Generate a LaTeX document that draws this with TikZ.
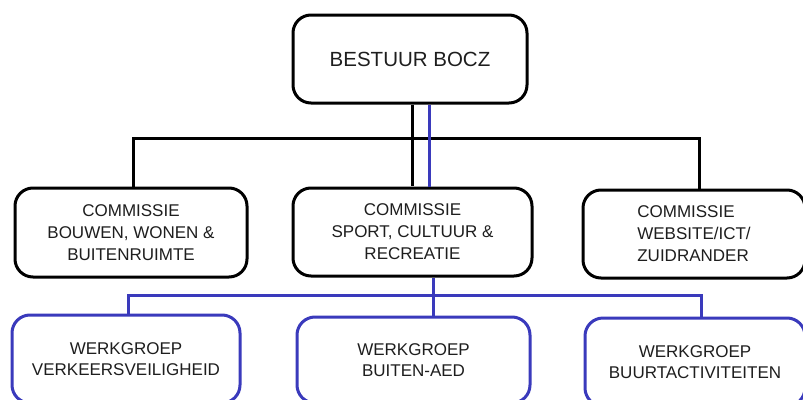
\documentclass[tikz,border=0pt]{standalone}
\usepackage{fontspec}
\setmainfont{Liberation Sans}
\definecolor{orgblue}{RGB}{58,58,188}
\definecolor{txt}{RGB}{30,30,30}
\begin{document}
\begin{tikzpicture}[x=1pt,y=-1pt,
  box/.style={draw=black, line width=3pt, rounded corners=18pt, inner sep=0pt, text=txt, align=center, font=\fontsize{17}{22}\selectfont},
  bbox/.style={box, draw=orgblue, font=\fontsize{17}{21}\selectfont},
  bl/.style={draw=black, line width=3pt},
  blu/.style={draw=orgblue, line width=3pt}]
\useasboundingbox (0,0) rectangle (803,399);
\clip (0,0) rectangle (803,399);
\fill[white] (0,0) rectangle (803,399);

\node[box, minimum width=234pt, minimum height=88pt, font=\fontsize{20.5}{24}\selectfont] (top) at (410,59) {BESTUUR BOCZ};

\node[box, minimum width=232pt, minimum height=89pt] (c1) at (131,232.5) {COMMISSIE\\BOUWEN, WONEN \&\\BUITENRUIMTE};
\node[box, minimum width=239pt, minimum height=88pt] (c2) at (412.5,232) {COMMISSIE\\SPORT, CULTUUR \&\\RECREATIE};
\node[box, minimum width=222pt, minimum height=88pt, align=left] (c3) at (694,234) {COMMISSIE\\WEBSITE/ICT/\\ZUIDRANDER};

\node[bbox, minimum width=228pt, minimum height=88pt] (w1) at (126,359) {WERKGROEP\\VERKEERSVEILIGHEID};
\node[bbox, minimum width=233pt, minimum height=86pt] (w2) at (413.5,360) {WERKGROEP\\BUITEN-AED};
\node[bbox, minimum width=220pt, minimum height=88pt] (w3) at (695,362) {WERKGROEP\\BUURTACTIVITEITEN};

% black connectors
\coordinate (k) at (412,0);
\coordinate (j1) at (133,138);
\coordinate (j3) at (699,138);
\draw[bl] (top.south -| k) -- ++(0,81);
\draw[bl] (c1.north -| j1) -- (j1) -- (j3) -- (c3.north -| j3);

% blue connectors
\coordinate (b0) at (429,0);
\coordinate (h1) at (128,295);
\coordinate (hm) at (433,295);
\coordinate (h3) at (701,295);
\draw[blu] (top.south -| b0) -- (c2.north -| b0);
\draw[blu] (w1.north -| h1) -- (h1) -- (h3) -- (w3.north -| h3);
\draw[blu] (c2.south -| hm) -- (w2.north -| hm);
\end{tikzpicture}
\end{document}
